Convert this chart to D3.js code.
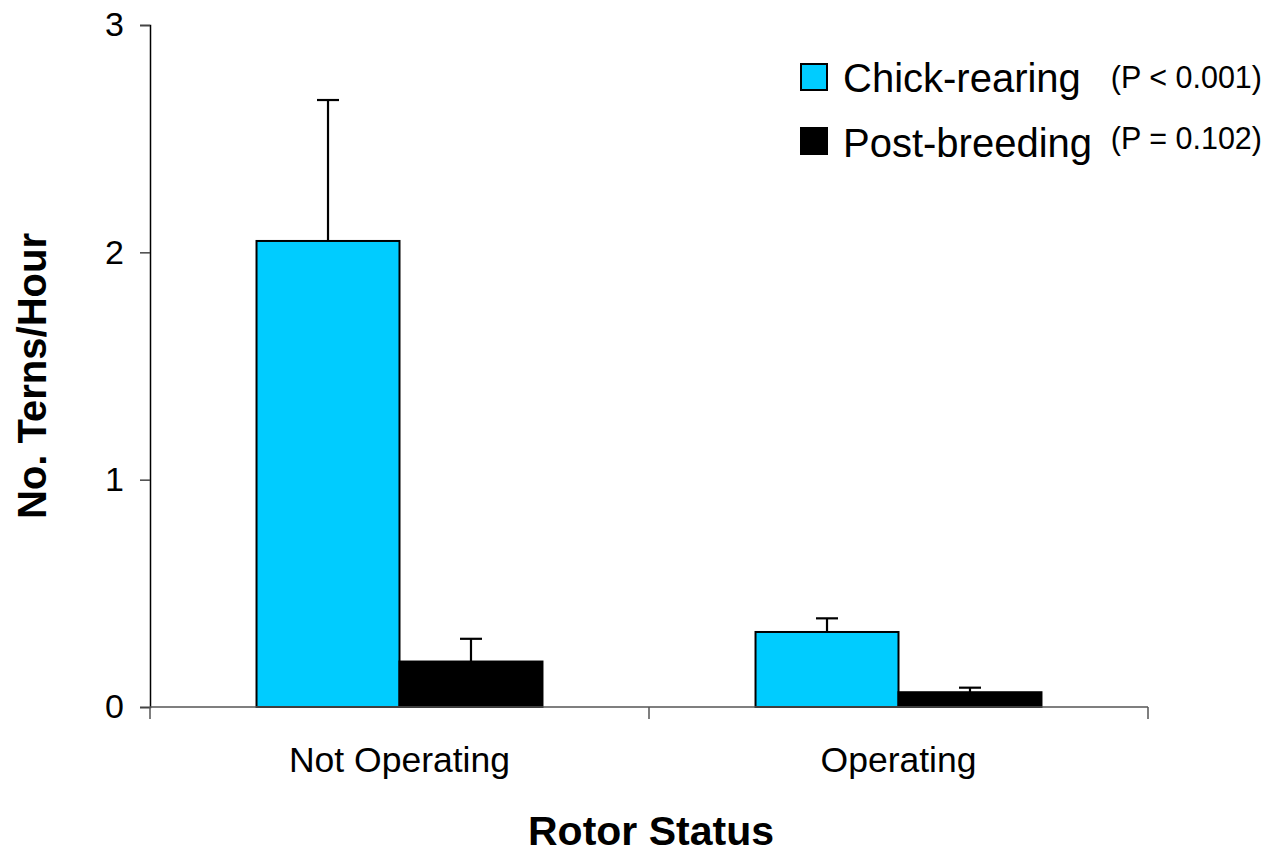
<!DOCTYPE html>
<html>
<head>
<meta charset="utf-8">
<script src="https://cdn.jsdelivr.net/npm/d3@7"></script>
<style>
  html, body { margin: 0; padding: 0; background: #fff; }
  svg { display: block; font-family: "Liberation Sans", Arial, sans-serif; }
</style>
</head>
<body>
<svg id="chart" width="1278" height="853"></svg>
<script>
// Tern passage rates by rotor status (mean with upper SE bar)
const categories = ["Not Operating", "Operating"];
const seriesNames = ["Chick-rearing", "Post-breeding"];
const seriesP = ["(P < 0.001)", "(P = 0.102)"];
const chickRearing = [2.05, 0.33];
const postBreeding = [0.20, 0.065];
const chickRearingErr = [0.62, 0.06];
const postBreedingErr = [0.10, 0.02];
const yTicks = [0, 1, 2, 3];
const colors = ["#00CCFF", "#000000"];

const values = [chickRearing, postBreeding];
const errors = [chickRearingErr, postBreedingErr];
const rows = [];
categories.forEach((c, i) => {
  seriesNames.forEach((s, j) => {
    rows.push({ category: c, series: s, value: values[j][i], err: errors[j][i], color: colors[j] });
  });
});

const svg = d3.select("#chart");
const margin = { left: 150, right: 130, top: 25, bottom: 146 };
const W = 1278, H = 853;

const x0 = d3.scaleBand().domain(categories).range([margin.left, W - margin.right]).padding(0);
const x1 = d3.scaleBand().domain(seriesNames).range([0, x0.bandwidth()]).paddingInner(0).paddingOuter(0.745);
const y = d3.scaleLinear().domain([0, 3]).range([H - margin.bottom, margin.top]);

// Bars
svg.append("g").selectAll("rect").data(rows).join("rect")
  .attr("x", d => x0(d.category) + x1(d.series))
  .attr("y", d => y(d.value))
  .attr("width", x1.bandwidth())
  .attr("height", d => y(0) - y(d.value))
  .attr("fill", d => d.color)
  .attr("stroke", "#000")
  .attr("stroke-width", 2);

// Upper error bars
const eg = svg.append("g").attr("stroke", "#000").attr("stroke-width", 2.2);
rows.forEach(d => {
  const cx = x0(d.category) + x1(d.series) + x1.bandwidth() / 2;
  eg.append("line").attr("x1", cx).attr("x2", cx).attr("y1", y(d.value)).attr("y2", y(d.value + d.err));
  eg.append("line").attr("x1", cx - 11).attr("x2", cx + 11).attr("y1", y(d.value + d.err)).attr("y2", y(d.value + d.err));
});

// Y axis
const yAxis = svg.append("g")
  .attr("transform", `translate(${margin.left},0)`)
  .call(d3.axisLeft(y).tickValues(yTicks).tickFormat(d3.format("d")).tickSize(10).tickPadding(16));
yAxis.select(".domain").attr("stroke", "#000").attr("stroke-width", 1.5);
yAxis.selectAll(".tick line").attr("stroke", "#444").attr("stroke-width", 1.5);
yAxis.selectAll(".tick text").attr("font-size", 34).attr("fill", "#000")
  .attr("font-family", "Liberation Sans, Arial, sans-serif");

// X axis with ticks at category boundaries
const xAxisG = svg.append("g").attr("transform", `translate(0,${y(0)})`);
xAxisG.append("line").attr("x1", margin.left).attr("x2", W - margin.right)
  .attr("y1", 0).attr("y2", 0).attr("stroke", "#555").attr("stroke-width", 1.5);
const bounds = categories.map(c => x0(c)).concat([x0(categories[categories.length - 1]) + x0.bandwidth()]);
xAxisG.selectAll("line.tk").data(bounds).join("line").attr("class", "tk")
  .attr("x1", d => d).attr("x2", d => d).attr("y1", 0).attr("y2", 12)
  .attr("stroke", "#555").attr("stroke-width", 1.5);
xAxisG.selectAll("text").data(categories).join("text")
  .attr("x", d => x0(d) + x0.bandwidth() / 2)
  .attr("y", 65)
  .attr("text-anchor", "middle")
  .attr("font-size", 35.5)
  .text(d => d);

// Axis titles
svg.append("text")
  .attr("x", (margin.left + W - margin.right) / 2 + 2)
  .attr("y", 845)
  .attr("text-anchor", "middle")
  .attr("font-size", 41).attr("font-weight", "bold")
  .text("Rotor Status");
svg.append("text")
  .attr("transform", `translate(46,${376}) rotate(-90)`)
  .attr("text-anchor", "middle")
  .attr("font-size", 40).attr("font-weight", "bold")
  .text("No. Terns/Hour");

// Legend
const legend = svg.append("g");
const swatchTop = [64, 128];
const labelBase = [92, 157];
const pBase = [88, 149];
seriesNames.forEach((s, i) => {
  legend.append("rect").attr("x", 801).attr("y", swatchTop[i]).attr("width", 26).attr("height", 26)
    .attr("fill", colors[i]).attr("stroke", "#000").attr("stroke-width", 2);
  legend.append("text").attr("x", 843).attr("y", labelBase[i]).attr("font-size", 40).text(s);
  legend.append("text").attr("x", 1262).attr("y", pBase[i]).attr("text-anchor", "end")
    .attr("font-size", 30.5).text(seriesP[i]);
});
</script>
</body>
</html>
